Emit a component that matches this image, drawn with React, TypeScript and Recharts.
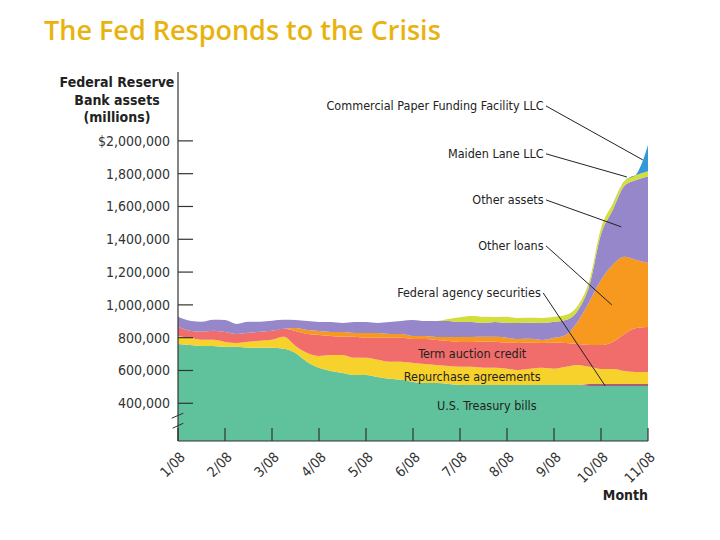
// Federal Reserve balance sheet, Jan-Nov 2008: stacked areas by asset type

import React from 'react';
import { AreaChart, Area, XAxis, YAxis, ReferenceLine, ReferenceDot } from 'recharts';

const FONT = '"DejaVu Sans Condensed", "DejaVu Sans", sans-serif';

// x position in months after 1/08 (roughly weekly samples)
const months = [
  0, 0.25, 0.5, 0.75, 1, 1.25, 1.5, 1.75, 2, 2.25,
  2.5, 2.75, 3, 3.25, 3.5, 3.75, 4, 4.25, 4.5, 4.75,
  5, 5.25, 5.5, 5.75, 6, 6.25, 6.5, 6.75, 7, 7.25,
  7.5, 7.75, 8, 8.25, 8.5, 8.75, 9, 9.25, 9.5, 9.75, 10,
];

const monthTicks = [0, 1, 2, 3, 4, 5, 6, 7, 8, 9, 10];
const monthLabels = ['1/08', '2/08', '3/08', '4/08', '5/08', '6/08', '7/08', '8/08', '9/08', '10/08', '11/08'];

const yTicks = [400000, 600000, 800000, 1000000, 1200000, 1400000, 1600000, 1800000, 2000000];
const yTickLabels = ['400,000', '600,000', '800,000', '1,000,000', '1,200,000', '1,400,000', '1,600,000', '1,800,000', '$2,000,000'];

// millions of dollars
const treasury = [
  762000, 756000, 750000, 750000, 744000, 744000, 738000, 738000, 738000, 732000,
  707000, 652000, 616000, 597000, 585000, 573000, 573000, 561000, 549000, 543000,
  530000, 524000, 524000, 518000, 512000, 512000, 512000, 512000, 512000, 512000,
  512000, 512000, 512000, 512000, 512000, 506000, 506000, 506000, 506000, 506000, 506000,
];
const agency = [
  0, 0, 0, 0, 0, 0, 0, 0, 0, 0,
  0, 0, 0, 0, 0, 0, 0, 0, 0, 0,
  0, 0, 0, 0, 0, 0, 0, 0, 0, 0,
  0, 0, 0, 0, 0, 12000, 12000, 12000, 12000, 12000, 12000,
];
const repo = [
  49000, 43000, 37000, 37000, 30000, 24000, 37000, 43000, 49000, 73000,
  43000, 55000, 73000, 98000, 110000, 104000, 104000, 104000, 104000, 110000,
  116000, 116000, 110000, 110000, 110000, 110000, 104000, 104000, 98000, 91000,
  98000, 104000, 98000, 110000, 122000, 104000, 91000, 91000, 79000, 73000, 73000,
];
const termAuction = [
  55000, 43000, 49000, 55000, 61000, 55000, 55000, 55000, 55000, 49000,
  91000, 116000, 128000, 116000, 110000, 128000, 122000, 134000, 146000, 146000,
  146000, 152000, 152000, 152000, 152000, 152000, 159000, 159000, 159000, 165000,
  159000, 152000, 159000, 146000, 128000, 134000, 146000, 165000, 226000, 268000, 274000,
];
const otherLoans = [
  0, 0, 0, 0, 0, 0, 0, 0, 0, 0,
  18000, 24000, 24000, 24000, 30000, 24000, 30000, 30000, 24000, 24000,
  18000, 18000, 18000, 24000, 30000, 30000, 30000, 30000, 30000, 24000,
  24000, 18000, 30000, 49000, 134000, 262000, 396000, 470000, 470000, 415000, 390000,
];
const otherAssets = [
  61000, 61000, 61000, 67000, 73000, 61000, 67000, 61000, 61000, 55000,
  49000, 55000, 55000, 61000, 55000, 67000, 67000, 61000, 73000, 79000,
  98000, 91000, 98000, 98000, 91000, 91000, 85000, 91000, 91000, 98000,
  98000, 104000, 98000, 91000, 67000, 98000, 280000, 335000, 433000, 488000, 530000,
];
const maidenLane = [
  0, 0, 0, 0, 0, 0, 0, 0, 0, 0,
  0, 0, 0, 0, 0, 0, 0, 0, 0, 0,
  0, 0, 0, 12000, 30000, 37000, 37000, 30000, 37000, 30000,
  30000, 30000, 30000, 30000, 30000, 30000, 37000, 37000, 30000, 30000, 30000,
];
const cpff = [
  0, 0, 0, 0, 0, 0, 0, 0, 0, 0,
  0, 0, 0, 0, 0, 0, 0, 0, 0, 0,
  0, 0, 0, 0, 0, 0, 0, 0, 0, 0,
  0, 0, 0, 0, 0, 0, 0, 0, 0, 5000, 159000,
];

const data = months.map((m, i) => ({
  m,
  treasury: treasury[i],
  agency: agency[i],
  repo: repo[i],
  termAuction: termAuction[i],
  otherLoans: otherLoans[i],
  otherAssets: otherAssets[i],
  maidenLane: maidenLane[i],
  cpff: cpff[i],
}));

const layers = [
  { key: 'treasury', color: '#5fc29c' },
  { key: 'agency', color: '#a95c7c' },
  { key: 'repo', color: '#f8d22c' },
  { key: 'termAuction', color: '#f16d6b' },
  { key: 'otherLoans', color: '#f7991f' },
  { key: 'otherAssets', color: '#9587ca' },
  { key: 'maidenLane', color: '#d3de3e' },
  { key: 'cpff', color: '#3497d8' },
];

// labels with leader lines: text ends at `from`, line runs to `to`
const callouts = [
  { text: 'Commercial Paper Funding Facility LLC', from: [7.8, 2213000], to: [9.89, 1884000] },
  { text: 'Maiden Lane LLC', from: [7.8, 1921000], to: [9.55, 1780000] },
  { text: 'Other assets', from: [7.8, 1640000], to: [9.43, 1476000] },
  { text: 'Other loans', from: [7.8, 1360000], to: [9.23, 1000000] },
  { text: 'Federal agency securities', from: [7.74, 1073000], to: [9.09, 506000] },
];

const inlineLabels = [
  { text: 'Term auction credit', at: [6.26, 701000] },
  { text: 'Repurchase agreements', at: [6.26, 561000] },
  { text: 'U.S. Treasury bills', at: [6.57, 384000] },
];

const YTick = (props: any) => {
  const { x, y, payload } = props;
  const label = yTickLabels[yTicks.indexOf(payload.value)];
  return (
    <g>
      <line x1={x + 8} y1={y} x2={x + 23} y2={y} stroke="#333" strokeWidth={1.2} />
      <text x={x} y={y} dy={5} textAnchor="end" fill="#333" fontSize={14} fontFamily={FONT}>
        {label}
      </text>
    </g>
  );
};

const XTick = (props: any) => {
  const { x, y, payload } = props;
  const label = monthLabels[monthTicks.indexOf(payload.value)];
  const tx = x + 8;
  const ty = y + 17;
  return (
    <g>
      <line x1={x} y1={y} x2={x} y2={y - 13} stroke="#333" strokeWidth={1.2} />
      <text
        x={tx}
        y={ty}
        textAnchor="end"
        transform={`rotate(-45, ${tx}, ${ty})`}
        fill="#333"
        fontSize={14}
        fontFamily={FONT}
      >
        {label}
      </text>
    </g>
  );
};

export default function App() {
  return (
    <div style={{ position: 'absolute', left: 0, top: 0, width: 720, height: 540, background: '#fff' }}>
      <div
        style={{
          position: 'absolute', left: 44, top: 12, lineHeight: '36px', whiteSpace: 'nowrap',
          fontFamily: '"Open Sans", sans-serif', fontWeight: 600, fontSize: 27, color: '#e9b30f',
        }}
      >
        The Fed Responds to the Crisis
      </div>
      <div
        style={{
          position: 'absolute', left: 47, top: 74, width: 140, textAlign: 'center',
          lineHeight: '17.5px', fontFamily: FONT, fontWeight: 700, fontSize: 14, color: '#222',
        }}
      >
        Federal Reserve<br />Bank assets<br />(millions)
      </div>
      <div
        style={{
          position: 'absolute', left: 548, top: 486, width: 100, textAlign: 'right',
          lineHeight: '18px', fontFamily: FONT, fontWeight: 700, fontSize: 14, color: '#222',
        }}
      >
        Month
      </div>

      <AreaChart
        width={720}
        height={540}
        data={data}
        margin={{ top: 72, right: 72, bottom: 39, left: 0 }}
        style={{ position: 'absolute', left: 0, top: 0 }}
      >
        {layers.map((l) => (
          <Area
            key={l.key}
            dataKey={l.key}
            stackId="a"
            type="monotone"
            stroke="none"
            fill={l.color}
            fillOpacity={1}
            dot={false}
            activeDot={false}
            isAnimationActive={false}
          />
        ))}
        <XAxis
          dataKey="m"
          type="number"
          domain={[0, 10]}
          ticks={monthTicks}
          height={60}
          tickSize={0}
          tickMargin={0}
          tickLine={false}
          axisLine={{ stroke: '#333', strokeWidth: 1.2 }}
          tick={<XTick />}
          interval={0}
        />
        <YAxis
          type="number"
          domain={[170000, 2420000]}
          allowDataOverflow
          ticks={yTicks}
          width={178}
          tickSize={0}
          tickMargin={8}
          tickLine={false}
          axisLine={{ stroke: '#333', strokeWidth: 1.2 }}
          tick={<YTick />}
          interval={0}
        />
        {/* axis break marks */}
        <ReferenceLine segment={[{ x: -0.134, y: 309000 }, { x: 0.113, y: 339500 }]} stroke="#333" ifOverflow="visible" />
        <ReferenceLine segment={[{ x: -0.115, y: 248000 }, { x: 0.113, y: 278500 }]} stroke="#333" ifOverflow="visible" />

        {callouts.map((c) => (
          <ReferenceLine
            key={c.text + '-line'}
            segment={[{ x: c.from[0] + 0.03, y: c.from[1] }, { x: c.to[0], y: c.to[1] }]}
            stroke="#222"
            strokeWidth={1}
            ifOverflow="visible"
          />
        ))}
        {callouts.map((c) => (
          <ReferenceDot
            key={c.text}
            x={c.from[0]}
            y={c.from[1]}
            r={0}
            fill="none"
            stroke="none"
            label={{ value: c.text, position: 'left', offset: 1, fill: '#222', fontSize: 12.5, fontFamily: FONT }}
          />
        ))}
        {inlineLabels.map((c) => (
          <ReferenceDot
            key={c.text}
            x={c.at[0]}
            y={c.at[1]}
            r={0}
            fill="none"
            stroke="none"
            label={{ value: c.text, position: 'center', fill: '#222', fontSize: 12.5, fontFamily: FONT }}
          />
        ))}
      </AreaChart>
    </div>
  );
}
